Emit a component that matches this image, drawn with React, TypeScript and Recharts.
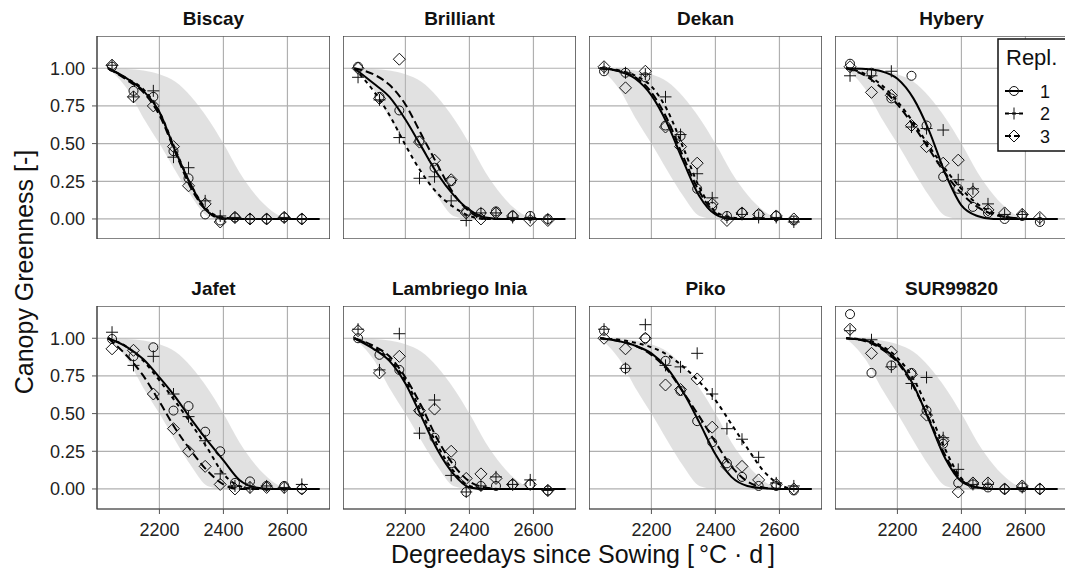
import {
  Area,
  CartesianGrid,
  ComposedChart,
  Line,
  ReferenceArea,
  Scatter,
  XAxis,
  YAxis,
} from 'recharts'

const FONT = "'Liberation Sans', Arial, Helvetica, sans-serif"

// cultivars, one facet each (row by row)
const cultivars = [
  'Biscay',
  'Brilliant',
  'Dekan',
  'Hybery',
  'Jafet',
  'Lambriego Inia',
  'Piko',
  'SUR99820',
]

// x positions (degree days) of the fitted curves and the reference band
const curveX = [2040, 2100, 2150, 2200, 2250, 2300, 2350, 2400, 2450, 2500, 2550, 2600, 2650, 2700]

// grey reference envelope, same for every cultivar
const bandLower = [1.0, 0.86, 0.67, 0.5, 0.32, 0.15, 0.02, 0, 0, 0, 0, 0, 0, 0]
const bandUpper = [1.0, 0.995, 0.985, 0.96, 0.91, 0.81, 0.67, 0.5, 0.31, 0.16, 0.055, 0.005, 0, 0]

// fitted greenness per replicate, one row per cultivar
const fitRepl1 = [
  [1.0, 0.93, 0.85, 0.71, 0.45, 0.22, 0.05, 0.005, 0, 0, 0, 0, 0, 0],
  [1.0, 0.9, 0.81, 0.66, 0.48, 0.3, 0.16, 0.06, 0.01, 0, 0, 0, 0, 0],
  [1.0, 0.98, 0.93, 0.82, 0.63, 0.38, 0.15, 0.03, 0, 0, 0, 0, 0, 0],
  [1.0, 0.995, 0.98, 0.93, 0.8, 0.58, 0.3, 0.09, 0.02, 0, 0, 0, 0, 0],
  [1.0, 0.94, 0.86, 0.74, 0.61, 0.46, 0.32, 0.19, 0.06, 0.01, 0, 0, 0, 0],
  [1.0, 0.93, 0.85, 0.7, 0.48, 0.26, 0.1, 0.01, 0, 0, 0, 0, 0, 0],
  [1.0, 0.98, 0.95, 0.9, 0.8, 0.64, 0.44, 0.23, 0.08, 0.02, 0.005, 0, 0, 0],
  [1.0, 0.985, 0.94, 0.85, 0.69, 0.45, 0.2, 0.05, 0.01, 0, 0, 0, 0, 0],
]
const fitRepl2 = [
  [1.0, 0.93, 0.86, 0.71, 0.46, 0.22, 0.06, 0.01, 0, 0, 0, 0, 0, 0],
  [1.0, 0.85, 0.69, 0.49, 0.31, 0.17, 0.08, 0.02, 0, 0, 0, 0, 0, 0],
  [1.0, 0.985, 0.95, 0.88, 0.72, 0.47, 0.21, 0.05, 0.01, 0, 0, 0, 0, 0],
  [1.0, 0.96, 0.89, 0.78, 0.64, 0.48, 0.33, 0.2, 0.1, 0.04, 0.01, 0, 0, 0],
  [1.0, 0.94, 0.85, 0.72, 0.58, 0.43, 0.27, 0.1, 0.02, 0, 0, 0, 0, 0],
  [1.0, 0.94, 0.86, 0.72, 0.51, 0.29, 0.12, 0.02, 0, 0, 0, 0, 0, 0],
  [1.0, 0.99, 0.97, 0.94, 0.89, 0.81, 0.71, 0.59, 0.43, 0.27, 0.12, 0.03, 0, 0],
  [1.0, 0.99, 0.95, 0.87, 0.73, 0.51, 0.26, 0.07, 0.01, 0, 0, 0, 0, 0],
]
const fitRepl3 = [
  [1.0, 0.92, 0.84, 0.69, 0.44, 0.2, 0.05, 0, 0, 0, 0, 0, 0, 0],
  [1.0, 0.96, 0.89, 0.76, 0.56, 0.36, 0.17, 0.05, 0, 0, 0, 0, 0, 0],
  [1.0, 0.98, 0.94, 0.84, 0.66, 0.41, 0.18, 0.04, 0, 0, 0, 0, 0, 0],
  [1.0, 0.95, 0.87, 0.76, 0.62, 0.46, 0.3, 0.17, 0.08, 0.03, 0.01, 0, 0, 0],
  [1.0, 0.88, 0.75, 0.58, 0.4, 0.25, 0.12, 0.03, 0, 0, 0, 0, 0, 0],
  [1.0, 0.95, 0.88, 0.74, 0.55, 0.33, 0.16, 0.05, 0.01, 0, 0, 0, 0, 0],
  [1.0, 0.98, 0.95, 0.89, 0.79, 0.64, 0.48, 0.31, 0.15, 0.05, 0.01, 0, 0, 0],
  [1.0, 0.98, 0.93, 0.84, 0.68, 0.46, 0.22, 0.06, 0.01, 0, 0, 0, 0, 0],
]

// observation dates (degree days)
const sampleX = [2052, 2119, 2181, 2244, 2291, 2343, 2390, 2436, 2483, 2535, 2590, 2645]

// observed greenness per replicate, one row per cultivar
const obsRepl1 = [
  [1.01, 0.85, 0.81, 0.45, 0.27, 0.03, -0.01, 0.01, 0.0, 0.0, 0.01, 0.0],
  [1.01, 0.81, 0.72, 0.52, 0.34, 0.25, 0.05, 0.04, 0.05, 0.02, 0.02, 0.0],
  [0.98, 0.97, 0.94, 0.62, 0.55, 0.2, 0.08, 0.02, 0.04, 0.03, 0.02, -0.01],
  [1.03, 0.97, 0.8, 0.95, 0.62, 0.28, 0.2, 0.08, 0.04, 0.0, 0.02, -0.02],
  [0.995, 0.88, 0.94, 0.52, 0.55, 0.38, 0.25, 0.04, 0.05, 0.02, 0.02, 0.0],
  [1.0, 0.89, 0.79, 0.52, 0.34, 0.17, -0.02, 0.02, 0.02, 0.03, 0.03, -0.01],
  [1.05, 0.8, 1.0, 0.85, 0.65, 0.45, 0.31, 0.17, 0.08, 0.02, 0.02, -0.01],
  [1.16, 0.77, 0.82, 0.77, 0.52, 0.3, 0.04, 0.03, 0.01, 0.0, 0.01, 0.0],
]
const obsRepl2 = [
  [1.02, 0.81, 0.85, 0.41, 0.34, 0.12, 0.02, 0.01, 0.0, 0.0, 0.01, 0.0],
  [0.94, 0.79, 0.54, 0.27, 0.28, 0.12, -0.01, 0.04, 0.04, 0.01, 0.01, 0.0],
  [1.0, 0.97, 0.96, 0.81, 0.56, 0.3, 0.14, 0.01, 0.03, 0.01, 0.01, -0.02],
  [0.95, 0.95, 0.98, 0.61, 0.6, 0.59, 0.26, 0.2, 0.1, 0.03, 0.03, 0.0],
  [1.04, 0.82, 0.88, 0.63, 0.48, 0.32, 0.1, 0.02, 0.01, 0.02, 0.01, 0.03],
  [1.06, 0.79, 1.03, 0.37, 0.59, 0.09, -0.02, 0.02, 0.08, 0.03, 0.06, -0.01],
  [1.06, 0.8, 1.09, 0.82, 0.81, 0.9, 0.63, 0.4, 0.33, 0.21, 0.04, 0.02],
  [1.05, 0.99, 0.81, 0.7, 0.74, 0.34, 0.13, 0.03, 0.03, 0.0, 0.01, 0.0],
]
const obsRepl3 = [
  [1.02, 0.81, 0.75, 0.48, 0.22, 0.1, -0.02, 0.01, 0.0, 0.0, 0.01, 0.0],
  [1.0, 0.8, 1.06, 0.51, 0.39, 0.26, 0.04, 0.0, 0.04, 0.02, -0.01, -0.01],
  [1.01, 0.87, 0.98, 0.61, 0.48, 0.37, 0.1, -0.01, 0.04, 0.03, 0.02, 0.0],
  [1.01, 0.84, 0.82, 0.62, 0.48, 0.37, 0.39, 0.18, 0.06, 0.04, 0.03, 0.01],
  [0.93, 0.92, 0.63, 0.4, 0.25, 0.15, 0.03, 0.0, 0.01, 0.01, 0.01, 0.0],
  [1.05, 0.77, 0.88, 0.52, 0.53, 0.25, 0.07, 0.1, 0.07, 0.03, 0.03, -0.01],
  [1.0, 0.93, 1.0, 0.69, 0.66, 0.73, 0.41, 0.15, 0.15, 0.06, 0.03, 0.0],
  [1.06, 0.9, 0.91, 0.76, 0.49, 0.32, -0.02, 0.04, 0.04, 0.0, 0.02, 0.0],
]

const replLabels = ['1', '2', '3']
const xTicks = [2200, 2400, 2600]
const yTicks = [0, 0.25, 0.5, 0.75, 1]
const xDomain: [number, number] = [2005, 2733]
const yDomain: [number, number] = [-0.133, 1.214]

// facet geometry
const PLOT_W = 233
const PLOT_H = 203
const COL_STEP = 246
const LEFT0 = 97
const ROW_TOP = [36, 306]
const Y_AXIS_W = 60
const X_AXIS_H = 40

const INK = '#111'
const dashes = [undefined, '4 4', '8 4']

function CircleMark({ cx, cy }: any) {
  return <circle cx={cx} cy={cy} r={4.5} fill='none' stroke={INK} strokeWidth={1} />
}

function PlusMark({ cx, cy }: any) {
  return (
    <path
      d={`M${cx - 6},${cy}H${cx + 6}M${cx},${cy - 6}V${cy + 6}`}
      fill='none'
      stroke={INK}
      strokeWidth={1}
    />
  )
}

function DiamondMark({ cx, cy }: any) {
  return (
    <path
      d={`M${cx},${cy - 6}L${cx + 6},${cy}L${cx},${cy + 6}L${cx - 6},${cy}Z`}
      fill='none'
      stroke={INK}
      strokeWidth={1}
    />
  )
}

const marks = [CircleMark, PlusMark, DiamondMark]

function Facet({ index }: { index: number }) {
  const row = Math.floor(index / 4)
  const col = index % 4
  const showY = col === 0
  const showX = row === 1

  const rows = curveX.map((x, i) => ({
    x,
    band: [bandLower[i], bandUpper[i]],
    r1: fitRepl1[index][i],
    r2: fitRepl2[index][i],
    r3: fitRepl3[index][i],
  }))
  const observed = [obsRepl1, obsRepl2, obsRepl3].map((series) =>
    sampleX.map((x, i) => ({ x, y: series[index][i] }))
  )

  const width = PLOT_W + (showY ? Y_AXIS_W : 0)
  const height = PLOT_H + (showX ? X_AXIS_H : 0)
  const left = LEFT0 + COL_STEP * col - (showY ? Y_AXIS_W : 0)

  return (
    <div style={{ position: 'absolute', left, top: ROW_TOP[row] }}>
      <ComposedChart
        width={width}
        height={height}
        data={rows}
        margin={{ top: 0, right: 0, bottom: 0, left: 0 }}
      >
        <CartesianGrid stroke='#b0b0b0' strokeWidth={1.2} />
        <XAxis
          type='number'
          dataKey='x'
          domain={xDomain}
          ticks={xTicks}
          allowDataOverflow
          hide={!showX}
          height={X_AXIS_H}
          axisLine={false}
          tickLine={{ stroke: '#555' }}
          tickSize={5}
          tickMargin={9}
          tick={{ fill: '#222', fontSize: 18, fontFamily: FONT }}
        />
        <YAxis
          type='number'
          domain={yDomain}
          ticks={yTicks}
          allowDataOverflow
          hide={!showY}
          width={Y_AXIS_W}
          axisLine={false}
          tickLine={{ stroke: '#555' }}
          tickSize={5}
          tickMargin={7}
          tick={{ fill: '#222', fontSize: 18, fontFamily: FONT }}
          tickFormatter={(v: number) => v.toFixed(2)}
        />
        <Area
          type='monotone'
          dataKey='band'
          fill='#bdbdbd'
          fillOpacity={0.45}
          stroke='none'
          isAnimationActive={false}
        />
        {['r1', 'r2', 'r3'].map((key, k) => (
          <Line
            key={key}
            type='monotone'
            dataKey={key}
            stroke='#000'
            strokeWidth={2}
            strokeDasharray={dashes[k]}
            dot={false}
            activeDot={false}
            isAnimationActive={false}
          />
        ))}
        {observed.map((pts, k) => (
          <Scatter
            key={k}
            data={pts}
            dataKey='y'
            shape={marks[k]}
            isAnimationActive={false}
          />
        ))}
        <ReferenceArea
          x1={xDomain[0]}
          x2={xDomain[1]}
          y1={yDomain[0]}
          y2={yDomain[1]}
          fill='none'
          stroke='#333'
          strokeWidth={1.2}
          ifOverflow='visible'
        />
      </ComposedChart>
    </div>
  )
}

function ReplLegend() {
  return (
    <svg
      width={80}
      height={116}
      style={{ position: 'absolute', left: 997, top: 38 }}
    >
      <rect x={1} y={1} width={78} height={112} fill='#fff' stroke={INK} strokeWidth={1.5} />
      <text x={9} y={27} fontSize={22} fontFamily={FONT} fill={INK}>
        Repl.
      </text>
      {replLabels.map((label, k) => {
        const cy = 53 + k * 22.5
        const Mark = marks[k]
        return (
          <g key={label}>
            <line
              x1={8}
              x2={26}
              y1={cy}
              y2={cy}
              stroke='#000'
              strokeWidth={2}
              strokeDasharray={k === 1 ? '4 3' : k === 2 ? '6 3' : undefined}
            />
            <Mark cx={17} cy={cy} />
            <text x={43} y={cy + 6.5} fontSize={18} fontFamily={FONT} fill={INK}>
              {label}
            </text>
          </g>
        )
      })}
    </svg>
  )
}

export default function App() {
  return (
    <div
      style={{
        position: 'absolute',
        left: 0,
        top: 0,
        width: 1065,
        height: 572,
        overflow: 'hidden',
        background: '#fff',
        fontFamily: FONT,
      }}
    >
      {cultivars.map((_, i) => (
        <Facet key={i} index={i} />
      ))}
      <svg
        width={1065}
        height={572}
        style={{ position: 'absolute', left: 0, top: 0, pointerEvents: 'none' }}
      >
        {cultivars.map((name, i) => (
          <text
            key={name}
            x={LEFT0 + COL_STEP * (i % 4) + PLOT_W / 2}
            y={Math.floor(i / 4) === 0 ? 25 : 295}
            textAnchor='middle'
            fontSize={19}
            fontWeight='bold'
            fontFamily={FONT}
            fill={INK}
          >
            {name}
          </text>
        ))}
        <text
          x={583}
          y={563}
          textAnchor='middle'
          fontSize={25}
          fontFamily={FONT}
          fill={INK}
        >
          {'Degreedays since Sowing [\u2009°C \u00b7 d\u2009]'}
        </text>
        <text
          x={33}
          y={272}
          transform='rotate(-90 33 272)'
          textAnchor='middle'
          fontSize={25}
          fontFamily={FONT}
          fill={INK}
        >
          Canopy Greenness [-]
        </text>
      </svg>
      <ReplLegend />
    </div>
  )
}
